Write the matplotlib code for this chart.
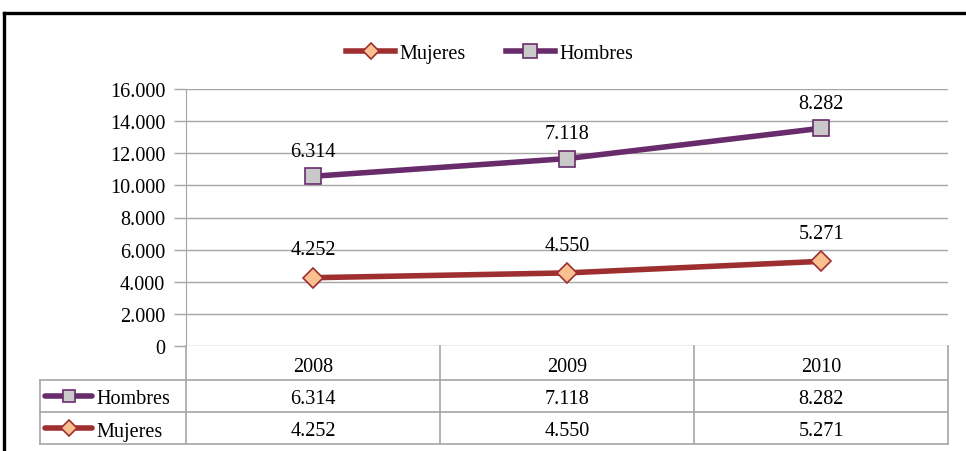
import numpy as np
import matplotlib
matplotlib.use("Agg")
import matplotlib.pyplot as plt
from matplotlib.lines import Line2D
from matplotlib.ticker import FuncFormatter

years = ["2008", "2009", "2010"]
mujeres = [4252, 4550, 5271]
hombres = [6314, 7118, 8282]
y_ticks = [0, 2000, 4000, 6000, 8000, 10000, 12000, 14000, 16000]

plt.rcParams['font.family'] = ['Liberation Serif', 'DejaVu Serif']
FS = 14.5

W, H = 966, 452
fig = plt.figure(figsize=(W / 100, H / 100), dpi=100)

def fx(x):
    return x / W

def fy(y):
    return 1 - y / H

# outer frame (top and left edges visible)
fig.add_artist(Line2D([fx(4), fx(966)], [fy(14), fy(14)], color='black', lw=2.4))
fig.add_artist(Line2D([fx(4), fx(4)], [fy(14), fy(452)], color='black', lw=2.4))

L, R, T, B = 186, 948, 90, 347
ax = fig.add_axes([fx(L), fy(B), fx(R - L), (B - T) / H])

c_muj = '#9E2F30'
c_muj_fill = '#FAC090'
c_hom = '#682C6C'
c_hom_fill = '#C9C9C9'
grid_c = '#A6A6A6'

x = np.arange(len(years))
muj = np.array(mujeres)
hom_stack = muj + np.array(hombres)

ax.set_xlim(-0.5, len(years) - 0.5)
ax.set_ylim(0, 16000)
ax.set_yticks(y_ticks)
ax.yaxis.set_major_formatter(FuncFormatter(lambda v, p: f"{v:,.0f}".replace(',', '.')))
ax.tick_params(axis='y', length=9, width=1, color=grid_c, labelsize=FS, pad=6)
ax.tick_params(axis='x', bottom=False, labelbottom=False)
ax.grid(axis='y', color=grid_c, lw=1)
ax.set_axisbelow(True)
for s in ['top', 'right', 'bottom']:
    ax.spines[s].set_visible(False)
ax.spines['left'].set_color(grid_c)

lm, = ax.plot(x, muj, color=c_muj, lw=4, marker='D', ms=10, mfc=c_muj_fill,
              mec=c_muj, mew=1.2, label='Mujeres', zorder=3)
lh, = ax.plot(x, hom_stack, color=c_hom, lw=4, marker='s', ms=12, mfc=c_hom_fill,
              mec=c_hom, mew=1.2, label='Hombres', zorder=3)

fmt = lambda v: f"{v:,.0f}".replace(',', '.')
for xi, yv, v in zip(x, hom_stack, hombres):
    ax.annotate(fmt(v), (xi, yv), xytext=(0, 18), textcoords='offset points',
                ha='center', va='center', fontsize=FS)
for xi, yv, v in zip(x, muj, mujeres):
    ax.annotate(fmt(v), (xi, yv), xytext=(0, 20), textcoords='offset points',
                ha='center', va='center', fontsize=FS)

# top legend
fig.legend(handles=[lm, lh], loc='center', bbox_to_anchor=(fx(490), fy(54)), ncol=2,
           frameon=False, fontsize=FS, handlelength=2.4, markerscale=0.85,
           columnspacing=2.0, handletextpad=0.25)

# data table below the axis
tr = ax.get_xaxis_transform()
def ay(y):
    return (B - y) / (B - T)

px_per_cat = (R - L) / len(years)
left_col = -0.5 - (L - 40) / px_per_cat
row_y = [B, 381, 413, 445]
edges = [-0.5 + i for i in range(len(years) + 1)]
lkw = dict(color=grid_c, lw=1.2, transform=tr, clip_on=False)
for yy in row_y[1:]:
    ax.plot([left_col, edges[-1]], [ay(yy), ay(yy)], **lkw)
for e in edges:
    ax.plot([e, e], [ay(row_y[0]), ay(row_y[-1])], **lkw)
ax.plot([left_col, left_col], [ay(row_y[1]), ay(row_y[-1])], **lkw)

TXT_SHIFT = 3
rows = [("Hombres", hombres, c_hom, 's', c_hom_fill, 9),
        ("Mujeres", mujeres, c_muj, 'D', c_muj_fill, 8)]
hdr_c = ay((row_y[0] + row_y[1]) / 2 + TXT_SHIFT + 1)
for xi, yr in zip(x, years):
    ax.text(xi, hdr_c, yr, transform=tr, ha='center', va='center', fontsize=FS, clip_on=False)
for i, (name, vals, col, mk, fill, ms) in enumerate(rows):
    ym = (row_y[i + 1] + row_y[i + 2]) / 2
    yc = ay(ym)
    yt = ay(ym + TXT_SHIFT)
    for xi, v in zip(x, vals):
        ax.text(xi, yt, fmt(v), transform=tr, ha='center', va='center', fontsize=FS, clip_on=False)
    x0 = left_col + 5 / px_per_cat
    x1 = left_col + 52 / px_per_cat
    ax.plot([x0, x1], [yc, yc], color=col, lw=4, transform=tr, clip_on=False,
            solid_capstyle='round')
    ax.plot([(x0 + x1) / 2], [yc], marker=mk, ms=ms, mfc=fill, mec=col, mew=1.2,
            transform=tr, clip_on=False, ls='none')
    ax.text(left_col + 56 / px_per_cat, yt, name, transform=tr, ha='left', va='center',
            fontsize=FS, clip_on=False)

fig.savefig('out.png', dpi=100)
